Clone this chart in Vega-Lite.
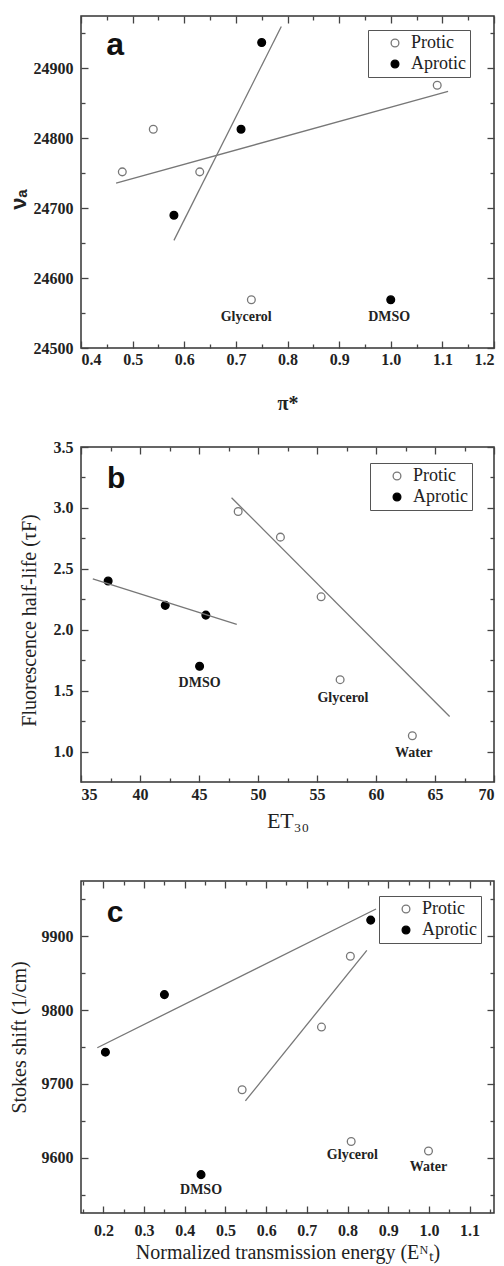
{
  "$schema": "https://vega.github.io/schema/vega-lite/v6.json",
  "background": "white",
  "padding": {"left": 6, "top": 14, "right": 11, "bottom": 2},
  "bounds": "flush",
  "spacing": 99,
  "resolve": {
    "scale": {"x": "independent", "y": "independent", "fill": "independent", "stroke": "independent"},
    "legend": {"fill": "independent", "stroke": "independent"}
  },
  "config": {
    "view": {"stroke": "#333", "strokeWidth": 1.5},
    "axis": {
      "grid": false, "domain": false,
      "tickColor": "#444", "tickWidth": 1.3,
      "titleColor": "#222", "titleFont": "Liberation Serif", "titleFontWeight": "normal", "titleFontSize": 20
    }
  },
  "vconcat": [
    {
      "width": 413, "height": 332,
      "layer": [
        {
          "data": {"values": [
            {"x": 0.48, "y": 24752, "group": "Protic"},
            {"x": 0.54, "y": 24813, "group": "Protic"},
            {"x": 0.63, "y": 24752, "group": "Protic"},
            {"x": 1.09, "y": 24876, "group": "Protic"},
            {"x": 0.73, "y": 24569, "group": "Protic"},
            {"x": 0.58, "y": 24690, "group": "Aprotic"},
            {"x": 0.71, "y": 24813, "group": "Aprotic"},
            {"x": 0.75, "y": 24937, "group": "Aprotic"},
            {"x": 1.0, "y": 24569, "group": "Aprotic"}
          ]},
          "mark": {"type": "circle", "size": 60, "strokeWidth": 1.3, "opacity": 1},
          "encoding": {
            "x": {"field": "x", "type": "quantitative", "scale": {"domain": [0.4, 1.2], "nice": false, "zero": false},
              "axis": {"orient": "bottom", "values": [0.4, 0.5, 0.6, 0.7, 0.8, 0.9, 1.0, 1.1, 1.2], "format": ".1f", "ticks": false, "tickSize": 0, "labelPadding": 3,
                "labelFont": "Liberation Serif", "labelFontWeight": "bold", "labelFontSize": 16, "labelColor": "#222",
                "title": "π*", "titleFontWeight": "bold", "titleFontSize": 20, "titleX": 206.5, "titleY": 61, "titleBaseline": "alphabetic", "titleAlign": "center"}},
            "y": {"field": "y", "type": "quantitative", "scale": {"domain": [24500, 24975], "nice": false, "zero": false},
              "axis": {"orient": "left", "values": [24500, 24600, 24700, 24800, 24900], "format": "d", "ticks": false, "tickSize": 0, "labelPadding": 8,
                "labelFont": "Liberation Serif", "labelFontWeight": "bold", "labelFontSize": 16, "labelColor": "#222",
                "title": "νₐ", "titleFont": "Liberation Sans", "titleFontWeight": "bold", "titleFontSize": 22,
                "titleX": -63, "titleY": 183, "titleAngle": -90, "titleBaseline": "middle", "titleAlign": "center"}},
            "fill": {"field": "group", "type": "nominal", "scale": {"domain": ["Protic", "Aprotic"], "range": ["white", "black"]},
              "legend": {"title": null, "orient": "none", "legendX": 287, "legendY": 14, "strokeColor": "#555", "padding": 4, "symbolOffset": 14, "labelOffset": 7,
                "labelFont": "Liberation Serif", "labelFontSize": 18, "labelColor": "#222", "symbolSize": 60, "symbolStrokeWidth": 1.3, "symbolType": "circle", "rowPadding": 3}},
            "stroke": {"field": "group", "type": "nominal", "scale": {"domain": ["Protic", "Aprotic"], "range": ["#777", "black"]},
              "legend": {"title": null, "orient": "none", "legendX": 287, "legendY": 14, "strokeColor": "#555", "padding": 4, "symbolOffset": 14, "labelOffset": 7,
                "labelFont": "Liberation Serif", "labelFontSize": 18, "labelColor": "#222", "symbolSize": 60, "symbolStrokeWidth": 1.3, "symbolType": "circle", "rowPadding": 3}}
          }
        },
        {
          "data": {"values": [
            {"x": 0.468, "y": 24736, "group": "Protic"},
            {"x": 1.111, "y": 24867, "group": "Protic"},
            {"x": 0.58, "y": 24654, "group": "Aprotic"},
            {"x": 0.788, "y": 24960, "group": "Aprotic"}
          ]},
          "mark": {"type": "line", "color": "#777", "strokeWidth": 1.3},
          "encoding": {
            "x": {"field": "x", "type": "quantitative",
              "axis": {"orient": "bottom", "values": [0.4, 0.45, 0.5, 0.55, 0.6, 0.65, 0.7, 0.75, 0.8, 0.85, 0.9, 0.95, 1.0, 1.05, 1.1, 1.15, 1.2], "labels": false, "title": null,
                "tickSize": {"condition": {"test": "abs(datum.value*10 - round(datum.value*10)) < 0.001", "value": -7}, "value": -4}}},
            "y": {"field": "y", "type": "quantitative",
              "axis": {"orient": "left", "values": [24500, 24550, 24600, 24650, 24700, 24750, 24800, 24850, 24900, 24950], "labels": false, "title": null,
                "tickSize": {"condition": {"test": "datum.value % 100 === 0", "value": -7}, "value": -4}}},
            "detail": {"field": "group"}
          }
        },
        {
          "data": {"values": [
            {"x": 0.72, "y": 24544, "label": "Glycerol"},
            {"x": 0.997, "y": 24544, "label": "DMSO"}
          ]},
          "mark": {"type": "text", "font": "Liberation Serif", "fontWeight": "bold", "fontSize": 14, "color": "#222", "baseline": "middle", "align": "center"},
          "encoding": {
            "x": {"field": "x", "type": "quantitative",
              "axis": {"orient": "top", "values": [0.4, 0.45, 0.5, 0.55, 0.6, 0.65, 0.7, 0.75, 0.8, 0.85, 0.9, 0.95, 1.0, 1.05, 1.1, 1.15, 1.2], "labels": false, "title": null,
                "tickSize": {"condition": {"test": "abs(datum.value*10 - round(datum.value*10)) < 0.001", "value": -7}, "value": -4}}},
            "y": {"field": "y", "type": "quantitative",
              "axis": {"orient": "right", "values": [24500, 24550, 24600, 24650, 24700, 24750, 24800, 24850, 24900, 24950], "labels": false, "title": null,
                "tickSize": {"condition": {"test": "datum.value % 100 === 0", "value": -7}, "value": -4}}},
            "text": {"field": "label"}
          }
        },
        {
          "data": {"values": [{"x": 0.466, "y": 24919, "label": "a"}]},
          "mark": {"type": "text", "font": "Liberation Sans", "fontWeight": "bold", "fontSize": 32, "color": "#111", "baseline": "alphabetic", "align": "center"},
          "encoding": {
            "x": {"field": "x", "type": "quantitative", "axis": null},
            "y": {"field": "y", "type": "quantitative", "axis": null},
            "text": {"field": "label"}
          }
        }
      ],
      "resolve": {"axis": {"x": "independent", "y": "independent"}}
    },
    {
      "width": 413, "height": 335,
      "layer": [
        {
          "data": {"values": [
            {"x": 37.3, "y": 2.40, "group": "Aprotic"},
            {"x": 42.14, "y": 2.20, "group": "Aprotic"},
            {"x": 45.58, "y": 2.12, "group": "Aprotic"},
            {"x": 45.05, "y": 1.70, "group": "Aprotic"},
            {"x": 48.32, "y": 2.97, "group": "Protic"},
            {"x": 51.9, "y": 2.76, "group": "Protic"},
            {"x": 55.35, "y": 2.27, "group": "Protic"},
            {"x": 56.96, "y": 1.59, "group": "Protic"},
            {"x": 63.08, "y": 1.13, "group": "Protic"}
          ]},
          "mark": {"type": "circle", "size": 60, "strokeWidth": 1.3, "opacity": 1},
          "encoding": {
            "x": {"field": "x", "type": "quantitative", "scale": {"domain": [35, 70], "nice": false, "zero": false},
              "axis": {"orient": "bottom", "values": [35, 40, 45, 50, 55, 60, 65, 70], "format": "d", "ticks": false, "tickSize": 0, "labelPadding": 4,
                "labelFont": "Liberation Serif", "labelFontWeight": "bold", "labelFontSize": 16, "labelColor": "#222",
                "title": "ET₃₀", "titleFontSize": 22, "titleX": 206.5, "titleY": 45, "titleBaseline": "alphabetic", "titleAlign": "center"}},
            "y": {"field": "y", "type": "quantitative", "scale": {"domain": [0.75, 3.5], "nice": false, "zero": false},
              "axis": {"orient": "left", "values": [1.0, 1.5, 2.0, 2.5, 3.0, 3.5], "format": ".1f", "ticks": false, "tickSize": 0, "labelPadding": 8,
                "labelFont": "Liberation Serif", "labelFontWeight": "bold", "labelFontSize": 16, "labelColor": "#222",
                "title": "Fluorescence half-life (τF)",
                "titleX": -51.5, "titleY": 173, "titleAngle": -90, "titleBaseline": "middle", "titleAlign": "center"}},
            "fill": {"field": "group", "type": "nominal", "scale": {"domain": ["Protic", "Aprotic"], "range": ["white", "black"]},
              "legend": {"title": null, "orient": "none", "legendX": 289, "legendY": 16, "strokeColor": "#555", "padding": 4, "symbolOffset": 14, "labelOffset": 7,
                "labelFont": "Liberation Serif", "labelFontSize": 18, "labelColor": "#222", "symbolSize": 60, "symbolStrokeWidth": 1.3, "symbolType": "circle", "rowPadding": 3}},
            "stroke": {"field": "group", "type": "nominal", "scale": {"domain": ["Protic", "Aprotic"], "range": ["#777", "black"]},
              "legend": {"title": null, "orient": "none", "legendX": 289, "legendY": 16, "strokeColor": "#555", "padding": 4, "symbolOffset": 14, "labelOffset": 7,
                "labelFont": "Liberation Serif", "labelFontSize": 18, "labelColor": "#222", "symbolSize": 60, "symbolStrokeWidth": 1.3, "symbolType": "circle", "rowPadding": 3}}
          }
        },
        {
          "data": {"values": [
            {"x": 36.0, "y": 2.418, "group": "Aprotic"},
            {"x": 48.2, "y": 2.043, "group": "Aprotic"},
            {"x": 47.76, "y": 3.084, "group": "Protic"},
            {"x": 66.24, "y": 1.288, "group": "Protic"}
          ]},
          "mark": {"type": "line", "color": "#777", "strokeWidth": 1.3},
          "encoding": {
            "x": {"field": "x", "type": "quantitative",
              "axis": {"orient": "bottom", "values": [35, 37.5, 40, 42.5, 45, 47.5, 50, 52.5, 55, 57.5, 60, 62.5, 65, 67.5, 70], "labels": false, "title": null,
                "tickSize": {"condition": {"test": "datum.value % 5 === 0", "value": -7}, "value": -4}}},
            "y": {"field": "y", "type": "quantitative",
              "axis": {"orient": "left", "values": [1.0, 1.25, 1.5, 1.75, 2.0, 2.25, 2.5, 2.75, 3.0, 3.25, 3.5], "labels": false, "title": null,
                "tickSize": {"condition": {"test": "abs(datum.value*2 - round(datum.value*2)) < 0.001", "value": -7}, "value": -4}}},
            "detail": {"field": "group"}
          }
        },
        {
          "data": {"values": [
            {"x": 45.05, "y": 1.56, "label": "DMSO"},
            {"x": 57.2, "y": 1.44, "label": "Glycerol"},
            {"x": 63.2, "y": 0.99, "label": "Water"}
          ]},
          "mark": {"type": "text", "font": "Liberation Serif", "fontWeight": "bold", "fontSize": 14, "color": "#222", "baseline": "middle", "align": "center"},
          "encoding": {
            "x": {"field": "x", "type": "quantitative",
              "axis": {"orient": "top", "values": [35, 37.5, 40, 42.5, 45, 47.5, 50, 52.5, 55, 57.5, 60, 62.5, 65, 67.5, 70], "labels": false, "title": null,
                "tickSize": {"condition": {"test": "datum.value % 5 === 0", "value": -7}, "value": -4}}},
            "y": {"field": "y", "type": "quantitative",
              "axis": {"orient": "right", "values": [1.0, 1.25, 1.5, 1.75, 2.0, 2.25, 2.5, 2.75, 3.0, 3.25, 3.5], "labels": false, "title": null,
                "tickSize": {"condition": {"test": "abs(datum.value*2 - round(datum.value*2)) < 0.001", "value": -7}, "value": -4}}},
            "text": {"field": "label"}
          }
        },
        {
          "data": {"values": [{"x": 37.97, "y": 3.163, "label": "b"}]},
          "mark": {"type": "text", "font": "Liberation Sans", "fontWeight": "bold", "fontSize": 30, "color": "#111", "baseline": "alphabetic", "align": "center"},
          "encoding": {
            "x": {"field": "x", "type": "quantitative", "axis": null},
            "y": {"field": "y", "type": "quantitative", "axis": null},
            "text": {"field": "label"}
          }
        }
      ],
      "resolve": {"axis": {"x": "independent", "y": "independent"}}
    },
    {
      "width": 413, "height": 332,
      "layer": [
        {
          "data": {"values": [
            {"x": 0.205, "y": 9743, "group": "Aprotic"},
            {"x": 0.35, "y": 9821, "group": "Aprotic"},
            {"x": 0.857, "y": 9922, "group": "Aprotic"},
            {"x": 0.44, "y": 9577, "group": "Aprotic"},
            {"x": 0.541, "y": 9692, "group": "Protic"},
            {"x": 0.736, "y": 9777, "group": "Protic"},
            {"x": 0.807, "y": 9873, "group": "Protic"},
            {"x": 0.809, "y": 9622, "group": "Protic"},
            {"x": 0.999, "y": 9609, "group": "Protic"}
          ]},
          "mark": {"type": "circle", "size": 60, "strokeWidth": 1.3, "opacity": 1},
          "encoding": {
            "x": {"field": "x", "type": "quantitative", "scale": {"domain": [0.145, 1.16], "nice": false, "zero": false},
              "axis": {"orient": "bottom", "values": [0.2, 0.3, 0.4, 0.5, 0.6, 0.7, 0.8, 0.9, 1.0, 1.1], "format": ".1f", "ticks": false, "tickSize": 0, "labelPadding": 9,
                "labelFont": "Liberation Serif", "labelFontWeight": "bold", "labelFontSize": 16, "labelColor": "#222",
                "title": "Normalized transmission energy (Eᴺₜ)", "titleX": 206.5, "titleY": 45, "titleBaseline": "alphabetic", "titleAlign": "center"}},
            "y": {"field": "y", "type": "quantitative", "scale": {"domain": [9525, 9975], "nice": false, "zero": false},
              "axis": {"orient": "left", "values": [9600, 9700, 9800, 9900], "format": "d", "ticks": false, "tickSize": 0, "labelPadding": 8,
                "labelFont": "Liberation Serif", "labelFontWeight": "bold", "labelFontSize": 16, "labelColor": "#222",
                "title": "Stokes shift (1/cm)",
                "titleX": -62, "titleY": 156, "titleAngle": -90, "titleBaseline": "middle", "titleAlign": "center"}},
            "fill": {"field": "group", "type": "nominal", "scale": {"domain": ["Protic", "Aprotic"], "range": ["white", "black"]},
              "legend": {"title": null, "orient": "none", "legendX": 298, "legendY": 15, "strokeColor": "#555", "padding": 4, "symbolOffset": 14, "labelOffset": 7,
                "labelFont": "Liberation Serif", "labelFontSize": 18, "labelColor": "#222", "symbolSize": 60, "symbolStrokeWidth": 1.3, "symbolType": "circle", "rowPadding": 3}},
            "stroke": {"field": "group", "type": "nominal", "scale": {"domain": ["Protic", "Aprotic"], "range": ["#777", "black"]},
              "legend": {"title": null, "orient": "none", "legendX": 298, "legendY": 15, "strokeColor": "#555", "padding": 4, "symbolOffset": 14, "labelOffset": 7,
                "labelFont": "Liberation Serif", "labelFontSize": 18, "labelColor": "#222", "symbolSize": 60, "symbolStrokeWidth": 1.3, "symbolType": "circle", "rowPadding": 3}}
          }
        },
        {
          "data": {"values": [
            {"x": 0.185, "y": 9749, "group": "Aprotic"},
            {"x": 0.87, "y": 9937, "group": "Aprotic"},
            {"x": 0.549, "y": 9677, "group": "Protic"},
            {"x": 0.8475, "y": 9881, "group": "Protic"}
          ]},
          "mark": {"type": "line", "color": "#777", "strokeWidth": 1.3},
          "encoding": {
            "x": {"field": "x", "type": "quantitative",
              "axis": {"orient": "bottom", "values": [0.15, 0.2, 0.25, 0.3, 0.35, 0.4, 0.45, 0.5, 0.55, 0.6, 0.65, 0.7, 0.75, 0.8, 0.85, 0.9, 0.95, 1.0, 1.05, 1.1, 1.15], "labels": false, "title": null,
                "tickSize": {"condition": {"test": "abs(datum.value*10 - round(datum.value*10)) < 0.001", "value": -7}, "value": -4}}},
            "y": {"field": "y", "type": "quantitative",
              "axis": {"orient": "left", "values": [9550, 9600, 9650, 9700, 9750, 9800, 9850, 9900, 9950], "labels": false, "title": null,
                "tickSize": {"condition": {"test": "datum.value % 100 === 0", "value": -7}, "value": -4}}},
            "detail": {"field": "group"}
          }
        },
        {
          "data": {"values": [
            {"x": 0.812, "y": 9604, "label": "Glycerol"},
            {"x": 0.999, "y": 9587, "label": "Water"},
            {"x": 0.44, "y": 9556, "label": "DMSO"}
          ]},
          "mark": {"type": "text", "font": "Liberation Serif", "fontWeight": "bold", "fontSize": 14, "color": "#222", "baseline": "middle", "align": "center"},
          "encoding": {
            "x": {"field": "x", "type": "quantitative",
              "axis": {"orient": "top", "values": [0.15, 0.2, 0.25, 0.3, 0.35, 0.4, 0.45, 0.5, 0.55, 0.6, 0.65, 0.7, 0.75, 0.8, 0.85, 0.9, 0.95, 1.0, 1.05, 1.1, 1.15], "labels": false, "title": null,
                "tickSize": {"condition": {"test": "abs(datum.value*10 - round(datum.value*10)) < 0.001", "value": -7}, "value": -4}}},
            "y": {"field": "y", "type": "quantitative",
              "axis": {"orient": "right", "values": [9550, 9600, 9650, 9700, 9750, 9800, 9850, 9900, 9950], "labels": false, "title": null,
                "tickSize": {"condition": {"test": "datum.value % 100 === 0", "value": -7}, "value": -4}}},
            "text": {"field": "label"}
          }
        },
        {
          "data": {"values": [{"x": 0.229, "y": 9920, "label": "c"}]},
          "mark": {"type": "text", "font": "Liberation Sans", "fontWeight": "bold", "fontSize": 30, "color": "#111", "baseline": "alphabetic", "align": "center"},
          "encoding": {
            "x": {"field": "x", "type": "quantitative", "axis": null},
            "y": {"field": "y", "type": "quantitative", "axis": null},
            "text": {"field": "label"}
          }
        }
      ],
      "resolve": {"axis": {"x": "independent", "y": "independent"}}
    }
  ]
}
